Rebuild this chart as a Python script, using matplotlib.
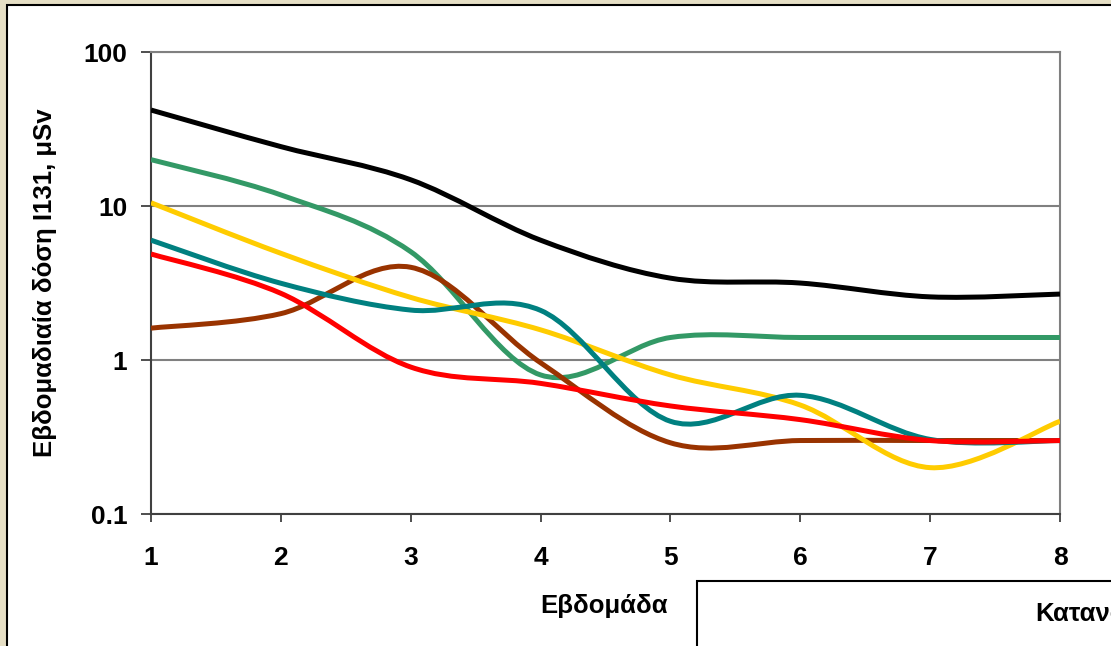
import numpy as np
import matplotlib.pyplot as plt
from matplotlib.path import Path
from matplotlib.patches import PathPatch, Rectangle

plt.rcParams['font.family'] = ['Liberation Sans', 'DejaVu Sans']
plt.rcParams['font.weight'] = 'bold'

# εβδομάδες και εβδομαδιαία δόση (μSv) ανά σειρά
weeks = [1, 2, 3, 4, 5, 6, 7, 8]
s_black = [42, 24.3, 14.8, 6.0, 3.4, 3.16, 2.57, 2.68]
s_green = [20, 11.8, 5.05, 0.8, 1.4, 1.4, 1.4, 1.4]
s_brown = [1.61, 2.0, 4.0, 0.96, 0.29, 0.30, 0.30, 0.30]
s_yellow = [10.5, 4.93, 2.55, 1.57, 0.8, 0.51, 0.2, 0.4]
s_teal = [6.0, 3.15, 2.11, 2.1, 0.4, 0.59, 0.305, 0.30]
s_red = [4.88, 2.71, 0.9, 0.705, 0.503, 0.41, 0.30, 0.30]

series = [
    (s_black, '#000000'),
    (s_green, '#339966'),
    (s_brown, '#993300'),
    (s_yellow, '#FFCC00'),
    (s_teal, '#008080'),
    (s_red, '#FF0000'),
]


def smooth_path(xs, ys):
    # εξομαλυμένη γραμμή (bezier) σε λογαριθμικό άξονα
    x = np.asarray(xs, dtype=float)
    ly = np.log10(np.asarray(ys, dtype=float))
    n = len(x)
    verts = [(x[0], 10 ** ly[0])]
    codes = [Path.MOVETO]
    for i in range(n - 1):
        i0 = max(i - 1, 0)
        i3 = min(i + 2, n - 1)
        c1x = x[i] + (x[i + 1] - x[i0]) / 6
        c1y = ly[i] + (ly[i + 1] - ly[i0]) / 6
        c2x = x[i + 1] - (x[i3] - x[i]) / 6
        c2y = ly[i + 1] - (ly[i3] - ly[i]) / 6
        verts += [(c1x, 10 ** c1y), (c2x, 10 ** c2y), (x[i + 1], 10 ** ly[i + 1])]
        codes += [Path.CURVE4] * 3
    return Path(verts, codes)


fig = plt.figure(figsize=(11.11, 6.46), dpi=100)
fig.patch.set_facecolor('#E6DFC5')

W, H = 1111, 646
# λευκό πλαίσιο γραφήματος
fig.patches.append(Rectangle((7 / W, -0.1), 1.2, 0.1 + 1 - 5 / H, transform=fig.transFigure,
                             facecolor='white', edgecolor='black', lw=1.5, zorder=-2))

ax = fig.add_axes([151 / W, 1 - 514 / H, (1060 - 151) / W, (514 - 52) / H])
ax.set_yscale('log')
ax.set_xlim(1, 8)
ax.set_ylim(0.1, 100)

for vals, col in series:
    ax.add_patch(PathPatch(smooth_path(weeks, vals), facecolor='none', edgecolor=col,
                           lw=3.6, capstyle='butt', joinstyle='round', zorder=3))

ax.yaxis.grid(True, which='major', color='#808080', lw=1.5)
ax.set_axisbelow(True)
ax.set_yticks([0.1, 1, 10, 100])
ax.set_yticklabels(['0.1', '1', '10', '100'])
ax.minorticks_off()
ax.set_xticks(weeks)
ax.set_xticklabels([str(w) for w in weeks])

for side in ['left', 'bottom']:
    ax.spines[side].set_color('#404040')
    ax.spines[side].set_linewidth(1.5)
for side in ['right', 'top']:
    ax.spines[side].set_color('#808080')
    ax.spines[side].set_linewidth(1.5)

ax.tick_params(axis='y', direction='out', length=7, width=1.3, color='#404040',
               pad=10, labelsize=19)
ax.tick_params(axis='x', direction='out', length=6, width=1.3, color='#404040',
               pad=17, labelsize=19)

fig.text(45 / W, 1 - 283 / H, 'Εβδομαδιαία δόση I131, μSv', rotation=90,
         ha='center', va='center', fontsize=18.5, fontweight='bold')
fig.text(604 / W, 1 - 606 / H, 'Εβδομάδα', ha='center', va='center',
         fontsize=18.5, fontweight='bold')

# πλαίσιο υπομνήματος
fig.patches.append(Rectangle((697 / W, -0.1), 1.0, 0.1 + 1 - 581 / H,
                             transform=fig.transFigure, facecolor='white',
                             edgecolor='black', lw=1.5, zorder=1))
fig.text(1035 / W, 1 - 614 / H, 'Κατανομή', ha='left', va='center',
         fontsize=18.5, fontweight='bold')

fig.savefig('out.png', dpi=100, facecolor=fig.get_facecolor())
